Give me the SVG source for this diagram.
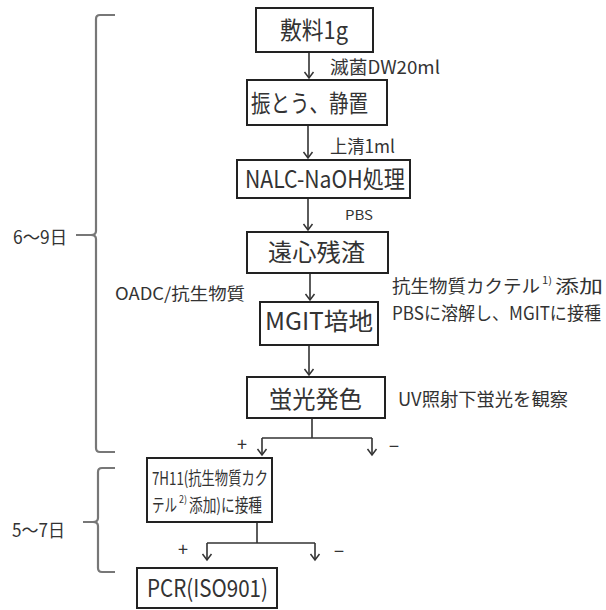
<svg xmlns="http://www.w3.org/2000/svg" width="606" height="610" viewBox="0 0 606 610">
<defs>
<style>
text{font-family:"Noto Sans CJK JP","Noto Sans",sans-serif;fill:#333;}
.box{fill:#fff;stroke:#222;stroke-width:2;}
.bt{font-size:24px;}
.lb{font-size:18px;}
.sup{font-size:10px;}
.ln{fill:none;stroke:#333;stroke-width:1.6;}
.br{fill:none;stroke:#777;stroke-width:2.2;}
</style>
<marker id="ah" viewBox="-8 -6 10 12" markerWidth="10" markerHeight="12" refX="0" refY="0" orient="auto" markerUnits="userSpaceOnUse">
<path d="M-6,-4.5 L0,0 L-6,4.5" fill="none" stroke="#333" stroke-width="1.5"/>
</marker>
</defs>
<rect width="606" height="610" fill="#fff"/>

<g id="connectors">
<line class="ln" x1="309" y1="52" x2="309" y2="78" marker-end="url(#ah)"/>
<line class="ln" x1="308" y1="125" x2="308" y2="158" marker-end="url(#ah)"/>
<line class="ln" x1="308" y1="198" x2="308" y2="230" marker-end="url(#ah)"/>
<line class="ln" x1="310" y1="273" x2="310" y2="300" marker-end="url(#ah)"/>
<line class="ln" x1="309" y1="345" x2="309" y2="375" marker-end="url(#ah)"/>
<line class="ln" x1="312" y1="418" x2="312" y2="438"/>
<line class="ln" x1="262" y1="438" x2="372" y2="438"/>
<line class="ln" x1="262" y1="438" x2="262" y2="455" marker-end="url(#ah)"/>
<line class="ln" x1="372" y1="438" x2="372" y2="455" marker-end="url(#ah)"/>
<line class="ln" x1="257" y1="522" x2="257" y2="543"/>
<line class="ln" x1="207" y1="543" x2="315" y2="543"/>
<line class="ln" x1="207" y1="543" x2="207" y2="560" marker-end="url(#ah)"/>
<line class="ln" x1="315" y1="543" x2="315" y2="560" marker-end="url(#ah)"/>
</g>

<g id="brackets">
<path class="br" d="M115,15 L100,15 Q96,15 96,19 L96,231 Q96,235 91,235 L76,235 M91,235 Q96,235 96,239 L96,448 Q96,452 100,452 L115,452"/>
<path class="br" d="M115,468 L102,468 Q98,468 98,472 L98,518 Q98,522 93,522 L83,522 M93,522 Q98,522 98,526 L98,568 Q98,572 102,572 L115,572"/>
</g>

<g id="n1"><rect class="box" x="256" y="8" width="117" height="44"/><text class="bt" x="280" y="39" textLength="68" lengthAdjust="spacingAndGlyphs">敷料1g</text></g>
<g id="n2"><rect class="box" x="247" y="80" width="140" height="45"/><text class="bt" x="251" y="112" textLength="117" lengthAdjust="spacingAndGlyphs">振とう、静置</text></g>
<g id="n3"><rect class="box" x="237" y="160" width="173" height="38"/><text class="bt" x="245" y="188" textLength="160" lengthAdjust="spacingAndGlyphs">NALC-NaOH処理</text></g>
<g id="n4"><rect class="box" x="247" y="232" width="141" height="41"/><text class="bt" x="268" y="261" textLength="97" lengthAdjust="spacingAndGlyphs">遠心残渣</text></g>
<g id="n5"><rect class="box" x="260" y="302" width="118" height="43"/><text class="bt" x="265" y="330" textLength="108" lengthAdjust="spacingAndGlyphs">MGIT培地</text></g>
<g id="n6"><rect class="box" x="247" y="377" width="138" height="41"/><text class="bt" x="269" y="408" textLength="93" lengthAdjust="spacingAndGlyphs">蛍光発色</text></g>
<g id="n7"><rect class="box" x="147" y="458" width="125" height="64"/>
<text x="152" y="485" font-size="18" textLength="116" lengthAdjust="spacingAndGlyphs">7H11(抗生物質カク</text>
<text x="152" y="512" font-size="18" textLength="25" lengthAdjust="spacingAndGlyphs">テル</text>
<text class="sup" x="179" y="503" textLength="8" lengthAdjust="spacingAndGlyphs">2)</text>
<text x="189" y="512" font-size="18" textLength="73" lengthAdjust="spacingAndGlyphs">添加)に接種</text></g>
<g id="n8"><rect class="box" x="137" y="568" width="140" height="40"/><text class="bt" x="147" y="597" textLength="121" lengthAdjust="spacingAndGlyphs">PCR(ISO901)</text></g>

<g id="labels">
<text class="lb" x="330" y="74" textLength="110" lengthAdjust="spacingAndGlyphs">滅菌DW20ml</text>
<text class="lb" x="330" y="153" textLength="65" lengthAdjust="spacingAndGlyphs">上清1ml</text>
<text x="345" y="220" font-size="13" textLength="28" lengthAdjust="spacingAndGlyphs">PBS</text>
<text x="115" y="300" font-size="17" textLength="130" lengthAdjust="spacingAndGlyphs">OADC/抗生物質</text>
<text class="lb" x="392" y="293" textLength="148" lengthAdjust="spacingAndGlyphs">抗生物質カクテル</text>
<text class="sup" x="542" y="284" textLength="10" lengthAdjust="spacingAndGlyphs">1)</text>
<text class="lb" x="555" y="293" textLength="48" lengthAdjust="spacingAndGlyphs">添加</text>
<text class="lb" x="392" y="320" textLength="209" lengthAdjust="spacingAndGlyphs">PBSに溶解し、MGITに接種</text>
<text class="lb" x="398" y="406" textLength="170" lengthAdjust="spacingAndGlyphs">UV照射下蛍光を観察</text>
<text class="lb" x="237" y="451">+</text>
<text class="lb" x="389" y="453">−</text>
<text class="lb" x="178" y="556">+</text>
<text class="lb" x="334" y="558">−</text>
<text class="lb" x="13" y="244" textLength="54" lengthAdjust="spacingAndGlyphs">6～9日</text>
<text class="lb" x="12" y="537" textLength="53" lengthAdjust="spacingAndGlyphs">5～7日</text>
</g>
</svg>
